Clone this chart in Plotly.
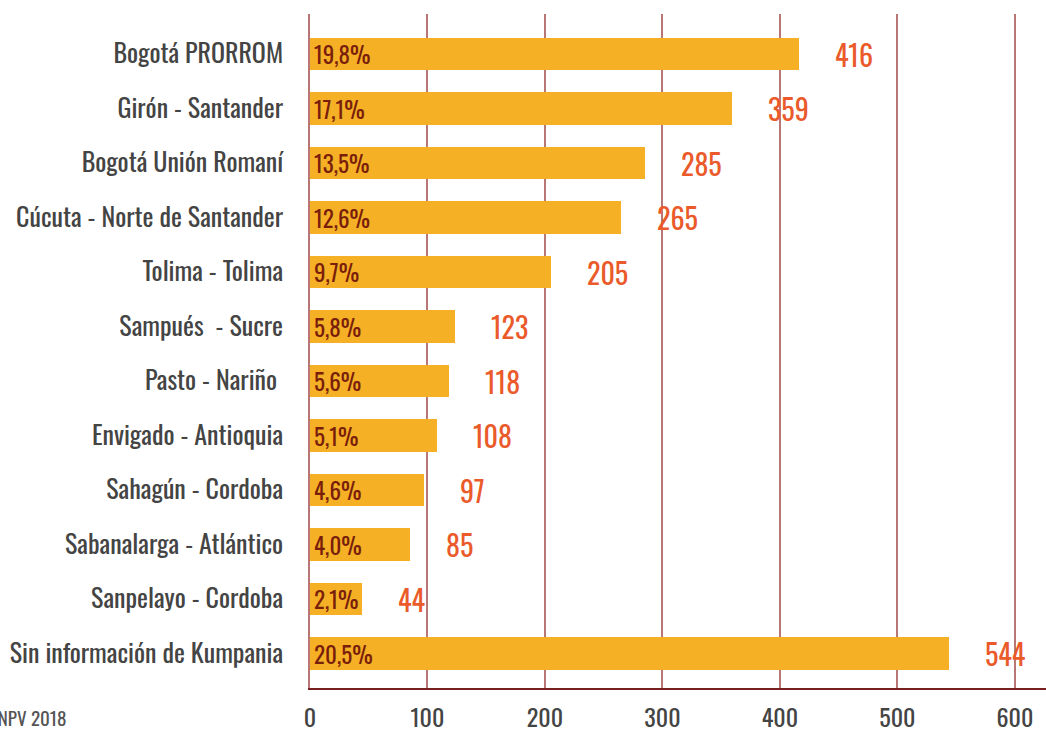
import plotly.graph_objects as go

categories = ["Bogotá PRORROM", "Girón - Santander", "Bogotá Unión Romaní",
              "Cúcuta - Norte de Santander", "Tolima - Tolima", "Sampués  - Sucre",
              "Pasto - Nariño ", "Envigado - Antioquia", "Sahagún - Cordoba",
              "Sabanalarga - Atlántico", "Sanpelayo - Cordoba", "Sin información de Kumpania"]
values = [416, 359, 285, 265, 205, 123, 118, 108, 97, 85, 44, 544]
percents = ["19,8%", "17,1%", "13,5%", "12,6%", "9,7%", "5,8%", "5,6%", "5,1%",
            "4,6%", "4,0%", "2,1%", "20,5%"]
x_ticks = [0, 100, 200, 300, 400, 500, 600]
source = "CNPV 2018"

FONT = "Oswald, 'Liberation Sans Narrow', 'DejaVu Sans Condensed', 'Roboto', sans-serif"
W, H = 1046, 731
ML, MR, MT, MB = 310, 0, 14, 43
plot_w = W - ML - MR
xmax = 626.5

fig = go.Figure()
fig.add_trace(go.Bar(
    x=values, y=categories, orientation="h",
    marker=dict(color="#F5B025", line=dict(width=0)),
    width=0.59, hoverinfo="x+y",
))

annotations = []
for c, v, p in zip(categories, values, percents):
    annotations.append(dict(x=0, y=c, xref="x", yref="y", text=p, showarrow=False,
                            xanchor="left", yanchor="middle", xshift=2,
                            font=dict(family=FONT, size=23, color="#7A1E0C")))
    annotations.append(dict(x=v, y=c, xref="x", yref="y", text=str(v), showarrow=False,
                            xanchor="left", yanchor="middle", xshift=34,
                            font=dict(family=FONT, size=28, color="#EA5A2A")))
annotations.append(dict(x=(68 - ML) / plot_w, y=-(717 - 688) / (H - MT - MB), xref="paper", yref="paper",
                        text=source, showarrow=False, xanchor="right", yanchor="middle",
                        font=dict(family=FONT, size=19, color="#555555")))

fig.update_layout(
    template="none",
    width=W, height=H,
    margin=dict(l=ML, r=MR, t=MT, b=MB, pad=0),
    plot_bgcolor="white", paper_bgcolor="white",
    showlegend=False,
    bargap=0,
    annotations=annotations,
    xaxis=dict(range=[0, xmax], tickvals=x_ticks, ticktext=[str(t) for t in x_ticks],
               showgrid=True, gridcolor="#B87674", gridwidth=1.5, automargin=False,
               zeroline=False, showline=True, linecolor="#7A1F1F", linewidth=1.5,
               ticks="", tickfont=dict(family=FONT, size=24, color="#444444"),
               ticklabelstandoff=8, fixedrange=True),
    yaxis=dict(type="category", categoryorder="array", categoryarray=categories,
               range=[11.633, -0.734], showgrid=False, zeroline=False, automargin=False,
               showline=True, linecolor="#B87674", linewidth=1.5,
               ticks="", ticklabelstandoff=20,
               tickfont=dict(family=FONT, size=26, color="#444444")),
)

fig.write_html("out.html", config={"displayModeBar": False},
               post_script="document.body.style.margin='0';document.body.style.overflow='hidden';")
